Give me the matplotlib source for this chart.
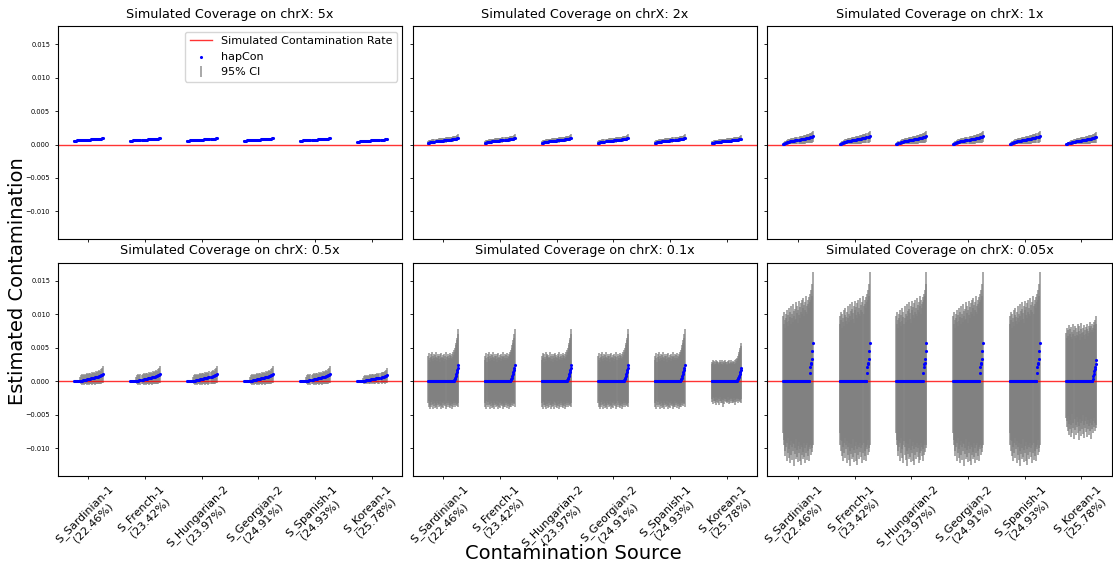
import numpy as np
import matplotlib
matplotlib.use('Agg')
import matplotlib.pyplot as plt

# contamination sources (x axis) and simulated coverages (one panel each)
sources = ['S_Sardinian-1\n(22.46%)', 'S_French-1\n(23.42%)', 'S_Hungarian-2\n(23.97%)',
           'S_Georgian-2\n(24.91%)', 'S_Spanish-1\n(24.93%)', 'S_Korean-1\n(25.78%)']
coverages = ['5x', '2x', '1x', '0.5x', '0.1x', '0.05x']

# all values below in units of 1e-4, sorted replicates per source
# the first five sources look the same in every panel, Korean is a bit lower
u = 1e-4

# 5x
est_5x = np.array([5.2, 5.7, 6.0, 6.2, 6.4, 6.5, 6.6, 6.7, 6.8, 6.9, 7.0, 7.1, 7.2, 7.3, 7.4,
                   7.5, 7.6, 7.7, 7.8, 7.9, 8.0, 8.1, 8.2, 8.3, 8.4, 8.6, 8.8, 9.0, 9.3, 9.8]) * u
lo_5x = np.array([4.3, 4.7, 4.9, 5.2, 5.2, 5.4, 5.6, 5.5, 5.7, 5.7, 6.0, 6.0, 5.9, 6.1, 6.3,
                  6.5, 6.4, 6.6, 6.5, 6.7, 6.9, 6.9, 7.2, 7.0, 7.2, 7.5, 7.6, 7.7, 8.1, 8.4]) * u
hi_5x = np.array([6.2, 6.8, 7.2, 7.3, 7.7, 7.7, 7.7, 8.0, 8.0, 8.2, 8.1, 8.3, 8.6, 8.6, 8.6,
                  8.6, 8.9, 8.9, 9.2, 9.2, 9.2, 9.4, 9.3, 9.7, 9.7, 9.8, 10.1, 10.4, 10.6, 11.3]) * u
est_5x_kor = np.array([3.6, 4.1, 4.4, 4.7, 4.9, 5.1, 5.2, 5.4, 5.5, 5.6, 5.8, 5.9, 6.0, 6.1, 6.2,
                       6.3, 6.4, 6.5, 6.6, 6.7, 6.8, 6.9, 7.0, 7.1, 7.3, 7.4, 7.6, 7.8, 8.1, 8.6]) * u
lo_5x_kor = np.array([2.7, 3.1, 3.4, 3.6, 3.8, 4.0, 4.1, 4.2, 4.4, 4.5, 4.7, 4.7, 4.9, 5.0, 5.1,
                      5.1, 5.3, 5.4, 5.5, 5.5, 5.7, 5.8, 5.9, 5.9, 6.2, 6.2, 6.5, 6.6, 6.9, 7.3]) * u
hi_5x_kor = np.array([4.6, 5.1, 5.5, 5.8, 6.0, 6.2, 6.4, 6.6, 6.6, 6.8, 7.0, 7.1, 7.2, 7.3, 7.4,
                      7.5, 7.6, 7.7, 7.8, 7.9, 8.0, 8.1, 8.2, 8.4, 8.5, 8.6, 8.8, 9.1, 9.4, 10.0]) * u

# 2x
est_2x = np.array([2.2, 2.9, 3.4, 3.8, 4.1, 4.4, 4.6, 4.8, 5.0, 5.2, 5.4, 5.6, 5.8, 6.0, 6.1,
                   6.3, 6.5, 6.6, 6.8, 7.0, 7.2, 7.4, 7.6, 7.8, 8.0, 8.3, 8.6, 9.0, 9.5, 10.3]) * u
lo_2x = np.array([-0.4, 0.1, 0.4, 0.9, 1.0, 1.4, 1.4, 1.7, 1.7, 2.2, 2.2, 2.2, 2.7, 2.7, 2.9,
                  2.9, 3.2, 3.1, 3.6, 3.6, 3.6, 4.1, 4.1, 4.4, 4.4, 4.8, 4.9, 5.4, 5.7, 6.3]) * u
hi_2x = np.array([5.6, 6.5, 7.2, 7.5, 8.0, 8.2, 8.6, 8.7, 9.1, 9.0, 9.4, 9.8, 9.7, 10.1, 10.1,
                  10.5, 10.6, 10.9, 10.8, 11.2, 11.6, 11.5, 11.9, 12.0, 12.4, 12.6, 13.1, 13.4, 14.2, 15.3]) * u
est_2x_kor = np.array([1.8, 2.4, 2.9, 3.2, 3.5, 3.7, 3.9, 4.1, 4.3, 4.5, 4.7, 4.8, 5.0, 5.2, 5.3,
                       5.5, 5.6, 5.8, 5.9, 6.1, 6.3, 6.4, 6.6, 6.8, 7.0, 7.2, 7.5, 7.8, 8.3, 9.0]) * u
lo_2x_kor = np.array([-0.6, -0.2, 0.2, 0.4, 0.7, 0.8, 1.0, 1.3, 1.4, 1.6, 1.8, 1.8, 2.2, 2.3, 2.4,
                      2.6, 2.6, 2.9, 2.9, 3.2, 3.4, 3.4, 3.6, 3.9, 4.0, 4.3, 4.5, 4.8, 5.3, 5.9]) * u
hi_2x_kor = np.array([5.0, 5.8, 6.4, 6.7, 7.1, 7.3, 7.6, 7.7, 8.1, 8.2, 8.4, 8.6, 8.8, 9.1, 9.1,
                      9.4, 9.5, 9.8, 9.8, 10.1, 10.4, 10.4, 10.7, 10.9, 11.2, 11.4, 11.8, 12.1, 12.7, 13.7]) * u

# 1x
est_1x = np.array([0.3, 1.2, 2.0, 2.7, 3.3, 3.8, 4.3, 4.7, 5.1, 5.4, 5.7, 6.0, 6.3, 6.6, 6.9,
                   7.1, 7.4, 7.7, 8.0, 8.3, 8.6, 8.9, 9.2, 9.5, 9.9, 10.3, 10.8, 11.4, 12.1, 13.2]) * u
lo_1x = np.array([0.0, 0.0, 0.0, 0.0, 0.0, 0.1, 0.2, 0.3, 0.4, 0.4, 0.5, 0.6, 0.7, 0.8, 0.9,
                  1.0, 1.1, 1.2, 1.3, 1.4, 1.5, 1.6, 1.7, 1.9, 2.0, 2.2, 2.4, 2.6, 2.9, 3.3]) * u
hi_1x = np.array([1.5, 3.5, 5.0, 6.0, 7.0, 7.7, 8.3, 8.8, 9.3, 9.7, 10.1, 10.5, 10.9, 11.3, 11.7,
                  12.0, 12.4, 12.8, 13.2, 13.6, 14.0, 14.4, 14.8, 15.2, 15.7, 16.2, 16.8, 17.5, 18.4, 19.8]) * u
est_1x_kor = np.array([0.2, 1.0, 1.7, 2.3, 2.8, 3.3, 3.7, 4.1, 4.4, 4.7, 5.0, 5.3, 5.6, 5.8, 6.1,
                       6.3, 6.6, 6.9, 7.1, 7.4, 7.7, 8.0, 8.3, 8.6, 8.9, 9.3, 9.7, 10.2, 10.9, 11.8]) * u
lo_1x_kor = np.array([0.0, 0.0, 0.0, 0.0, 0.0, 0.0, 0.1, 0.2, 0.3, 0.3, 0.4, 0.5, 0.6, 0.6, 0.7,
                      0.8, 0.9, 1.0, 1.1, 1.2, 1.3, 1.4, 1.5, 1.6, 1.7, 1.9, 2.1, 2.3, 2.6, 3.0]) * u
hi_1x_kor = np.array([1.3, 3.0, 4.4, 5.4, 6.3, 7.0, 7.5, 8.0, 8.4, 8.8, 9.2, 9.6, 10.0, 10.3, 10.7,
                      11.0, 11.4, 11.8, 12.1, 12.5, 12.9, 13.3, 13.7, 14.1, 14.5, 15.0, 15.5, 16.2, 17.0, 18.3]) * u

# 0.5x
est_05x = np.array([0, 0, 0, 0, 0, 0, 0.2, 0.6, 1.0, 1.4, 1.8, 2.1, 2.4, 2.8, 3.1,
                    3.4, 3.8, 4.1, 4.5, 4.8, 5.2, 5.6, 6.0, 6.5, 7.0, 7.5, 8.1, 8.9, 9.8, 11.3]) * u
lo_05x = np.array([0, 0, 0, 0, 0, 0, -2.5, -4.5, -5.2, -4.0, -5.5, -3.8, -4.9, -5.6, -4.2,
                   -5.0, -3.6, -4.7, -5.3, -4.1, -3.9, -5.4, -4.4, -3.7, -4.8, -4.0, -3.5, -4.6, -3.3, -2.8]) * u
hi_05x = np.array([0, 0, 0, 0, 0, 0, 6.5, 9.0, 10.2, 8.8, 11.0, 9.6, 10.8, 12.0, 10.4,
                   11.6, 12.4, 11.2, 13.0, 12.2, 13.8, 12.6, 14.5, 13.6, 15.6, 16.4, 15.2, 17.8, 19.6, 22.8]) * u
est_05x_kor = np.array([0, 0, 0, 0, 0, 0, 0.2, 0.5, 0.9, 1.2, 1.5, 1.8, 2.1, 2.4, 2.7,
                        3.0, 3.3, 3.6, 3.9, 4.2, 4.5, 4.8, 5.1, 5.5, 5.9, 6.3, 6.8, 7.5, 8.3, 9.8]) * u
lo_05x_kor = np.array([0, 0, 0, 0, 0, 0, -2.0, -3.6, -4.2, -3.2, -4.5, -3.0, -4.0, -4.6, -3.4,
                       -4.1, -2.9, -3.8, -4.4, -3.3, -3.1, -4.3, -3.5, -2.9, -3.9, -3.2, -2.8, -3.7, -2.6, -2.2]) * u
hi_05x_kor = np.array([0, 0, 0, 0, 0, 0, 5.5, 7.8, 8.9, 7.6, 9.6, 8.3, 9.4, 10.5, 9.0,
                       10.1, 10.8, 9.8, 11.4, 10.6, 12.0, 11.0, 12.6, 11.9, 13.6, 14.3, 13.3, 15.6, 17.2, 20.0]) * u

# 0.1x (most replicates estimated at exactly 0)
est_01x = np.array([0.0] * 50 + [0.6, 1.8, 3.5, 5.5, 8.0, 10.5, 13.5, 16.5, 20.0, 24.0]) * u
lo_01x = np.array([-33, -38, -29, -41, -35, -31, -39, -36, -28, -42, -34, -37, -30, -40, -33,
                   -38, -35, -29, -41, -36, -32, -39, -34, -37, -30, -42, -35, -31, -38, -33,
                   -40, -36, -29, -37, -34, -41, -32, -38, -35, -30, -39, -33, -36, -40, -31,
                   -37, -34, -42, -32, -38, -35, -30, -38, -33, -36, -31, -37, -34, -32, -39]) * u
hi_01x = np.array([38, 31, 42, 35, 29, 40, 36, 33, 43, 30, 37, 41, 34, 39, 32,
                   36, 44, 35, 30, 38, 41, 33, 37, 29, 40, 35, 42, 31, 36, 39,
                   34, 30, 41, 37, 33, 43, 36, 32, 38, 40, 35, 31, 39, 42, 34,
                   37, 33, 41, 36, 44, 39, 46, 43, 50, 54, 57, 61, 64, 70, 78]) * u
est_01x_kor = np.array([0.0] * 50 + [0.5, 1.5, 3.0, 4.5, 6.5, 8.5, 11.0, 13.5, 16.0, 19.0]) * u
lo_01x_kor = np.array([-27, -31, -24, -34, -29, -25, -32, -30, -23, -35, -28, -31, -25, -33, -27,
                       -36, -29, -24, -33, -30, -26, -32, -28, -38, -25, -34, -29, -26, -31, -27,
                       -33, -30, -24, -31, -28, -34, -26, -32, -29, -25, -32, -27, -30, -33, -25,
                       -31, -28, -35, -26, -31, -29, -25, -32, -27, -30, -26, -31, -28, -27, -33]) * u
hi_01x_kor = np.array([28, 25, 31, 27, 24, 30, 26, 29, 32, 25, 28, 30, 26, 29, 24,
                       27, 31, 28, 25, 29, 32, 26, 28, 24, 30, 27, 31, 25, 28, 29,
                       26, 24, 30, 28, 25, 32, 27, 26, 29, 31, 27, 25, 29, 30, 26,
                       28, 25, 31, 27, 33, 30, 34, 33, 38, 40, 43, 46, 49, 53, 57]) * u

# 0.05x
est_005x = np.array([0.0] * 53 + [12.5, 21, 25, 27, 33, 45, 57]) * u
lo_005x = np.array([-78, -95, -88, -104, -112, -90, -99, -120, -93, -107, -85, -115, -101, -96, -123,
                    -89, -110, -98, -118, -92, -105, -127, -94, -109, -100, -116, -87, -113, -103, -121,
                    -97, -108, -91, -119, -102, -125, -95, -111, -99, -117, -106, -92, -114, -100, -122,
                    -96, -108, -118, -93, -104, -112, -98, -120, -102, -95, -110, -88, -106, -100, -96]) * u
hi_005x = np.array([98, 85, 104, 92, 80, 101, 95, 88, 107, 83, 99, 110, 90, 96, 103,
                    86, 112, 94, 100, 89, 115, 97, 105, 91, 108, 118, 93, 102, 113, 87,
                    106, 120, 99, 111, 95, 117, 104, 122, 100, 109, 125, 98, 114, 107, 119,
                    103, 128, 112, 101, 121, 116, 109, 126, 118, 130, 122, 137, 128, 145, 163]) * u
est_005x_kor = np.array([0.0] * 52 + [3.5, 7.4, 11.4, 14.8, 17.8, 21, 26, 31]) * u
lo_005x_kor = np.array([-55, -68, -60, -75, -52, -80, -64, -71, -58, -84, -66, -49, -77, -62, -70,
                        -86, -57, -73, -65, -81, -53, -69, -78, -61, -88, -67, -56, -74, -63, -82,
                        -59, -72, -50, -79, -66, -85, -60, -70, -76, -54, -83, -64, -71, -58, -80,
                        -67, -62, -75, -57, -87, -65, -72, -60, -78, -68, -55, -74, -63, -70, -66]) * u
hi_005x_kor = np.array([72, 65, 80, 68, 76, 62, 84, 70, 78, 66, 81, 74, 63, 86, 71,
                        77, 68, 83, 64, 79, 73, 69, 85, 67, 75, 82, 70, 61, 78, 87,
                        72, 66, 80, 74, 69, 84, 76, 63, 81, 71, 78, 86, 68, 75, 83,
                        72, 79, 88, 74, 82, 77, 85, 80, 73, 89, 84, 78, 91, 86, 98]) * u

panel_data = [
    ((est_5x, lo_5x, hi_5x), (est_5x_kor, lo_5x_kor, hi_5x_kor)),
    ((est_2x, lo_2x, hi_2x), (est_2x_kor, lo_2x_kor, hi_2x_kor)),
    ((est_1x, lo_1x, hi_1x), (est_1x_kor, lo_1x_kor, hi_1x_kor)),
    ((est_05x, lo_05x, hi_05x), (est_05x_kor, lo_05x_kor, hi_05x_kor)),
    ((est_01x, lo_01x, hi_01x), (est_01x_kor, lo_01x_kor, hi_01x_kor)),
    ((est_005x, lo_005x, hi_005x), (est_005x_kor, lo_005x_kor, hi_005x_kor)),
]

#%% PLOT
fig, axes = plt.subplots(2, 3, figsize=(11.13, 5.65), dpi=100, sharex=True, sharey=True)
plt.subplots_adjust(left=0.052, right=0.999, top=0.954, bottom=0.158, wspace=0.03, hspace=0.11)

for k, ax in enumerate(axes.flat):
    typical, korean = panel_data[k]
    groups = [typical] * 5 + [korean]
    h_line = ax.axhline(0, color='red', lw=1, alpha=0.8, zorder=2.5)
    for i, (est, lo, hi) in enumerate(groups):
        x = i + np.linspace(-0.263, 0.263, len(est))
        h_err = ax.errorbar(x, est, yerr=[est - lo, hi - est], fmt='none',
                            ecolor='grey', elinewidth=1.2, alpha=0.8)
        h_sc = ax.scatter(x, est, s=5, color='blue', linewidths=0, zorder=3)
    ax.set_title('Simulated Coverage on chrX: ' + coverages[k], fontsize=9.2)
    ax.tick_params(axis='both', length=2, width=0.6, labelsize=4.8)
    if k == 0:
        ax.legend([h_line, h_sc, h_err], ['Simulated Contamination Rate', 'hapCon', '95% CI'],
                  loc='upper right', fontsize=8)

for ax in axes[1]:
    ax.set_xticks(range(len(sources)))
    ax.set_xticklabels(sources, rotation=45, fontsize=8)

fig.text(0.515, 0.021, 'Contamination Source', ha='center', va='center', fontsize=14)
fig.text(0.016, 0.503, 'Estimated Contamination', ha='center', va='center', rotation=90, fontsize=14)

plt.savefig('out.png', dpi=100)
